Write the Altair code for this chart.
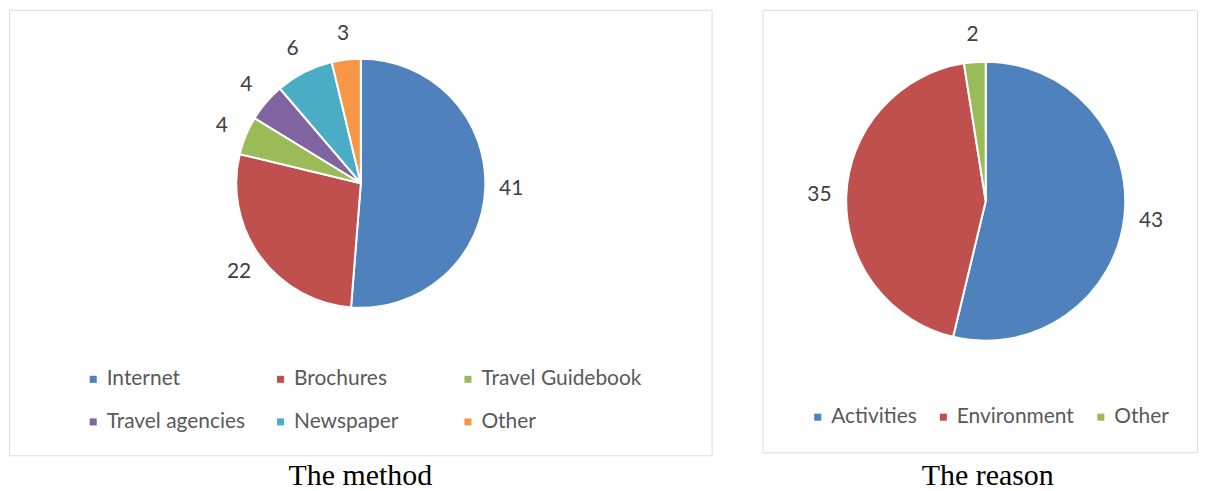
import altair as alt
import pandas as pd

method_cats = ["Internet", "Brochures", "Travel Guidebook", "Travel agencies", "Newspaper", "Other"]
method_vals = [41, 22, 4, 4, 6, 3]
method_colors = ["#4F81BD", "#C0504D", "#9BBB59", "#8064A2", "#4BACC6", "#F79646"]

reason_cats = ["Activities", "Environment", "Other"]
reason_vals = [43, 35, 2]
reason_colors = ["#4F81BD", "#C0504D", "#9BBB59"]

FONT = "Lato"
FS = 21

df_m = pd.DataFrame({"method": method_cats, "count": method_vals, "idx": range(len(method_cats))})
df_r = pd.DataFrame({"reason": reason_cats, "count": reason_vals, "idx": range(len(reason_cats))})


def pie(df, field, cats, colors, cx, cy, r, lr, w, h, title, toff, tdx, lx, ly, cols, grid, colpad):
    base = alt.Chart(df).encode(
        theta=alt.Theta("count:Q", stack=True),
        order=alt.Order("idx:Q"),
    )
    arc = base.mark_arc(radius=r, stroke="white", strokeWidth=2).encode(
        x=alt.value(cx), y=alt.value(cy),
        color=alt.Color(
            f"{field}:N",
            scale=alt.Scale(domain=cats, range=colors),
            sort=cats,
            legend=alt.Legend(
                title=None, orient="none", legendX=lx, legendY=ly, direction="horizontal",
                columns=cols, gridAlign=grid, columnPadding=colpad, rowPadding=21,
                symbolType="square", symbolSize=50, symbolStrokeWidth=0,
                labelFont=FONT, labelFontSize=FS, labelColor="#595959",
                labelOffset=3, padding=0, labelLimit=400,
            ),
        ),
    )
    txt = base.mark_text(radius=lr, font=FONT, fontSize=FS, color="#404040").encode(
        x=alt.value(cx), y=alt.value(cy),
        text=alt.Text("count:Q"),
    )
    return alt.layer(arc, txt).properties(
        width=w, height=h,
        title=alt.TitleParams(title, orient="bottom", font="Liberation Serif", fontSize=30,
                              fontWeight="normal", color="black", anchor="middle",
                              offset=toff, dx=tdx),
    )


left = pie(df_m, "method", method_cats, method_colors, 353, 174, 125, 151, 705, 447,
           "The method", 6, 0, 74, 360, 3, "all", 3)
right = pie(df_r, "reason", reason_cats, reason_colors, 224, 192, 140, 167, 436, 444,
            "The reason", 9, 8, 45, 398, 3, "each", 16)

chart = alt.hconcat(left, right, spacing=49).resolve_scale(color="independent").resolve_legend(
    color="independent"
).properties(padding=0).configure_view(stroke="#d9d9d9", strokeWidth=1.5).configure(background="white")

chart.save("out.html", embed_options={"renderer": "svg", "actions": False})
